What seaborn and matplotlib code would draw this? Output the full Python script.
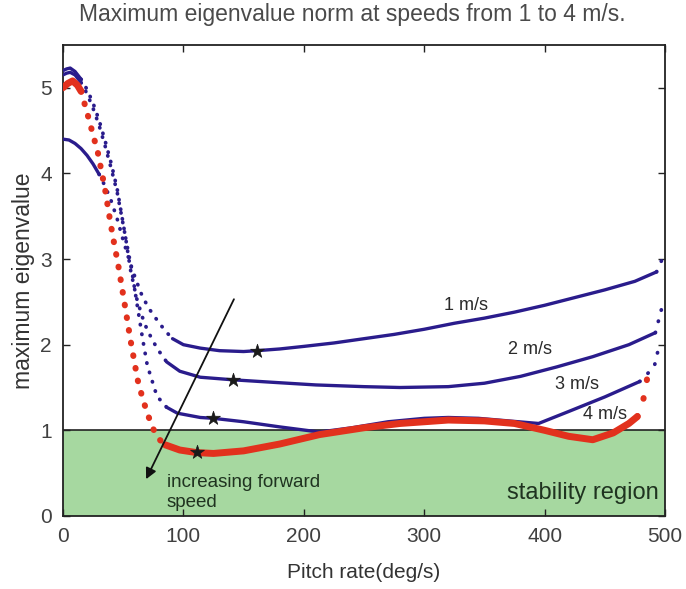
import matplotlib
matplotlib.use('Agg')
import seaborn as sns
import matplotlib.pyplot as plt

# pitch rate (deg/s) and max eigenvalue, one set per speed
pitch_1 = [0, 5, 10, 15, 20, 25, 30, 35, 40, 45, 50, 55, 60, 66, 72, 78, 85, 91, 100, 114, 130,
           150, 161, 180, 200, 225, 250, 275, 300, 325, 350, 375, 400, 425, 450, 475, 493]
eig_1 = [4.40, 4.39, 4.35, 4.29, 4.21, 4.11, 3.99, 3.85, 3.68, 3.47, 3.22, 2.99, 2.78, 2.56, 2.41,
         2.29, 2.16, 2.07, 2.00, 1.96, 1.93, 1.92, 1.93, 1.95, 1.98, 2.02, 2.07, 2.12, 2.18, 2.25,
         2.31, 2.38, 2.46, 2.55, 2.64, 2.74, 2.85]

pitch_2 = [0, 3, 6, 10, 15, 20, 25, 30, 35, 40, 45, 52, 56, 61, 66, 70, 78, 86, 97, 114, 141, 175,
           210, 250, 280, 320, 350, 380, 410, 440, 470, 492]
eig_2 = [5.15, 5.17, 5.18, 5.15, 5.06, 4.93, 4.76, 4.56, 4.32, 4.06, 3.78, 3.25, 2.88, 2.55, 2.32,
         2.17, 1.96, 1.80, 1.69, 1.62, 1.59, 1.56, 1.53, 1.51, 1.50, 1.51, 1.55, 1.63, 1.74, 1.86,
         2.00, 2.14]

pitch_3 = [0, 3, 6, 10, 15, 20, 25, 30, 35, 40, 45, 52, 57, 61, 66, 70, 78, 86, 95, 114, 125, 150,
           180, 213, 240, 270, 300, 320, 345, 370, 395, 420, 450, 479]
eig_3 = [5.20, 5.22, 5.23, 5.19, 5.10, 4.98, 4.82, 4.62, 4.38, 4.12, 3.82, 3.25, 2.88, 2.52, 2.08,
         1.76, 1.40, 1.27, 1.20, 1.15, 1.14, 1.10, 1.04, 0.98, 1.03, 1.10, 1.14, 1.15, 1.14, 1.11,
         1.08, 1.22, 1.39, 1.57]

pitch_4 = [0, 4, 8, 12, 15, 21, 29, 35, 39, 42, 46, 50, 56, 62, 66, 70, 74, 78, 85, 97, 111, 125,
           150, 180, 213, 250, 280, 320, 350, 375, 400, 420, 440, 457, 470, 477]
eig_4 = [5.00, 5.05, 5.08, 5.03, 4.96, 4.66, 4.24, 3.81, 3.46, 3.22, 2.92, 2.58, 2.06, 1.59, 1.38,
         1.20, 1.05, 0.92, 0.83, 0.77, 0.74, 0.73, 0.76, 0.84, 0.95, 1.03, 1.08, 1.12, 1.11, 1.08,
         1.00, 0.93, 0.89, 0.97, 1.08, 1.16]

# sparse points at the far right end of each curve
tail_pitch = {'1 m/s': [493, 498], '2 m/s': [492, 497], '3 m/s': [479, 491, 495], '4 m/s': [477, 482, 486]}
tail_eig = {'1 m/s': [2.85, 3.01], '2 m/s': [2.14, 2.41], '3 m/s': [1.57, 1.74, 1.98], '4 m/s': [1.16, 1.36, 1.67]}

# star markers on each curve
star_pitch = [161, 141, 125, 111]
star_eig = [1.93, 1.59, 1.14, 0.75]

# speed labels
speed_labels = ['1 m/s', '2 m/s', '3 m/s', '4 m/s']
label_pitch = [335, 388, 427, 450]
label_eig = [2.46, 1.94, 1.53, 1.18]

arrow_start = (143, 2.56)
arrow_end = (68, 0.40)

blue = '#2a1c8c'
red = '#e2311d'
green = '#a6d8a0'

sns.set_theme(style='white')
plt.rcParams['font.family'] = ['Liberation Sans', 'DejaVu Sans']

fig = plt.figure(figsize=(6.86, 5.89), dpi=100)
ax = fig.add_axes([0.0918, 0.124, 0.8776, 0.7997])

# stability region
ax.axhspan(0, 1, color=green, zorder=0, lw=0)
ax.axhline(1, color='#222222', lw=1.2, zorder=1)

curves = {
    '1 m/s': (pitch_1, eig_1, blue, 30, 91),
    '2 m/s': (pitch_2, eig_2, blue, 15, 86),
    '3 m/s': (pitch_3, eig_3, blue, 15, 86),
    '4 m/s': (pitch_4, eig_4, red, 15, 85),
}

for name, (px, ey, col, a, b) in curves.items():
    if col == red:
        thick, dot_w, dot = 5.0, 4.4, (0, (0.1, 2.0))
    else:
        thick, dot_w, dot = 2.4, 2.7, (0, (0.1, 2.5))
    head = [(x, y) for x, y in zip(px, ey) if x <= a]
    mid = [(x, y) for x, y in zip(px, ey) if a <= x <= b]
    rest = [(x, y) for x, y in zip(px, ey) if x >= b]
    for seg, style in [(head, '-'), (mid, dot), (rest, '-')]:
        sns.lineplot(x=[p[0] for p in seg], y=[p[1] for p in seg], ax=ax, color=col,
                     lw=thick if style == '-' else dot_w, linestyle=style,
                     sort=False, estimator=None, dash_capstyle='round',
                     solid_capstyle='round', zorder=3)
    sns.lineplot(x=tail_pitch[name], y=tail_eig[name], ax=ax, color=col, lw=dot_w,
                 linestyle=(0, (0.1, 3.0)), sort=False, estimator=None,
                 dash_capstyle='round', zorder=3)

sns.scatterplot(x=star_pitch, y=star_eig, ax=ax, marker='*', s=110, color='#1a1a1a',
                edgecolor='#1a1a1a', linewidth=0.5, zorder=5)

for lab, x, y in zip(speed_labels, label_pitch, label_eig):
    ax.text(x, y, lab, ha='center', va='center', fontsize=13, color='#2a2a2a', zorder=6)

ax.annotate('', xy=arrow_end, xytext=arrow_start,
            arrowprops=dict(arrowstyle='-|>', color='#111111', lw=1.3, mutation_scale=16),
            zorder=6)
ax.text(86, 0.49, 'increasing forward\nspeed', ha='left', va='top', fontsize=13.5,
        color='#1f3320', linespacing=1.2, zorder=6)
ax.text(495, 0.27, 'stability region', ha='right', va='center', fontsize=17,
        color='#1f3320', zorder=6)

ax.set_xlim(0, 500)
ax.set_ylim(0, 5.5)
ax.set_xticks([0, 100, 200, 300, 400, 500])
ax.set_yticks([0, 1, 2, 3, 4, 5])
ax.tick_params(direction='in', length=5, width=1, top=True, right=True, bottom=True, left=True,
               labelsize=15, labelcolor='#404040', pad=8, color='#222222')
for sp in ax.spines.values():
    sp.set_color('#222222')
    sp.set_linewidth(1.3)

ax.set_xlabel('Pitch rate(deg/s)', fontsize=15, color='#333333', labelpad=12)
ax.set_ylabel('maximum eigenvalue', fontsize=16.5, color='#333333', labelpad=4)
ax.set_title('Maximum eigenvalue norm at speeds from 1 to 4 m/s.', fontsize=16.5,
             color='#4a4a4a', pad=17, x=0.48)

fig.savefig('out.png', dpi=100)
